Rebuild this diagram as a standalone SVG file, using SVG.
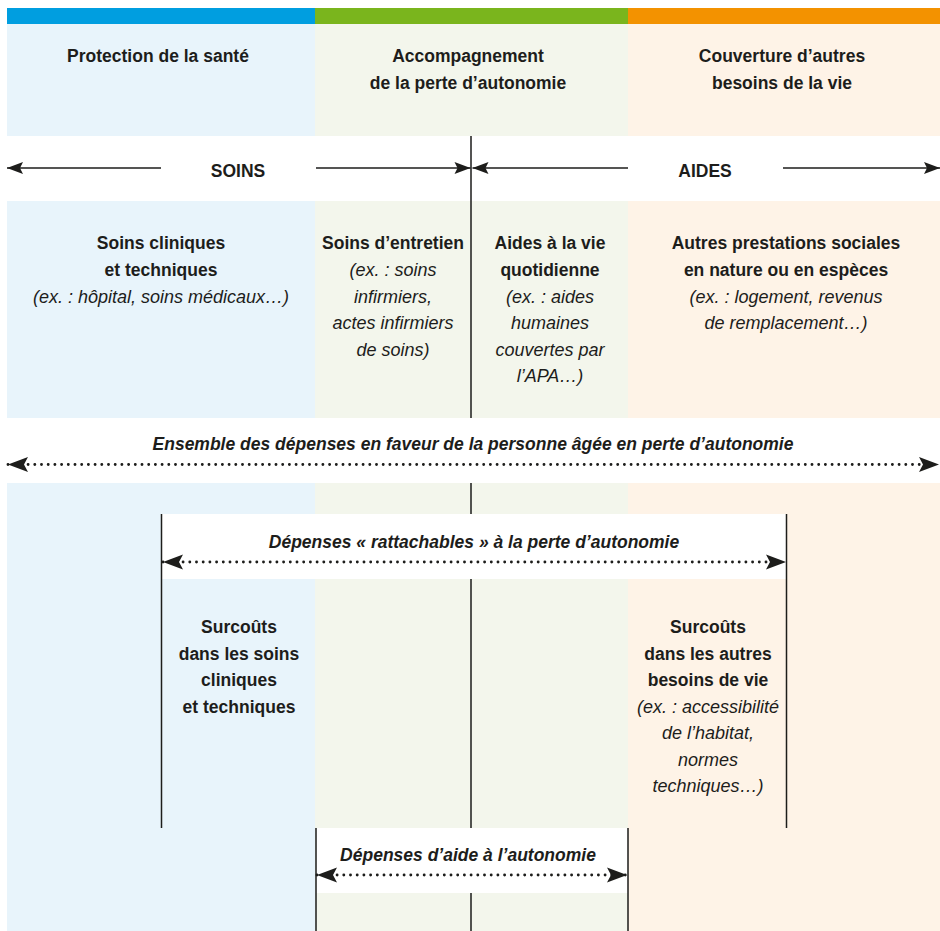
<svg xmlns="http://www.w3.org/2000/svg" width="940" height="931" viewBox="0 0 940 931">
<defs>
<style>
.t{font-family:"Liberation Sans",Arial,sans-serif;fill:#1d1d1b;text-anchor:middle}
.b{font-weight:bold;font-size:17.5px}
.i{font-style:italic;font-size:18px}
.bi{font-style:italic;font-weight:bold;font-size:17.5px}
.ln{stroke:#1d1d1b;stroke-width:1.4;fill:none}
.vl{stroke:#1d1d1b;stroke-width:1.5;fill:none}
.dot{stroke:#1d1d1b;stroke-width:2.9;stroke-linecap:round;stroke-dasharray:0 6.7;fill:none}
</style>
<marker id="ah" viewBox="-17 -7 18 14" refX="0" refY="0" markerWidth="18" markerHeight="14" markerUnits="userSpaceOnUse" orient="auto-start-reverse">
<path d="M0,0 L-16,-6 L-13,0 L-16,6 Z" fill="#1d1d1b"/>
</marker>
<marker id="ahd" viewBox="-21 -8 22 16" refX="0" refY="0" markerWidth="22" markerHeight="16" markerUnits="userSpaceOnUse" orient="auto-start-reverse">
<path d="M0,0 L-20,-7.5 L-16,0 L-20,7.5 Z" fill="#1d1d1b"/>
</marker>
</defs>

<g id="background">
<rect x="7" y="8" width="308" height="16" fill="#009EE0"/>
<rect x="315" y="8" width="313" height="16" fill="#7AB51D"/>
<rect x="628" y="8" width="312" height="16" fill="#F39200"/>
<rect x="7" y="24" width="308" height="112" fill="#E8F4FB"/>
<rect x="315" y="24" width="313" height="112" fill="#F3F6EC"/>
<rect x="628" y="24" width="312" height="112" fill="#FEF3E7"/>
<rect x="7" y="201" width="308" height="217" fill="#E8F4FB"/>
<rect x="315" y="201" width="313" height="217" fill="#F3F6EC"/>
<rect x="628" y="201" width="312" height="217" fill="#FEF3E7"/>
<rect x="7" y="483" width="308" height="448" fill="#E8F4FB"/>
<rect x="315" y="483" width="313" height="448" fill="#F3F6EC"/>
<rect x="628" y="483" width="312" height="448" fill="#FEF3E7"/>
<rect x="161" y="514" width="626" height="65" fill="#FFFFFF"/>
<rect x="316" y="828" width="312" height="65" fill="#FFFFFF"/>
</g>

<g id="h-sante">
<text class="t b" x="158" y="62">Protection de la santé</text>
</g>
<g id="h-autonomie">
<text class="t b" x="468" y="62">Accompagnement</text>
<text class="t b" x="468" y="89">de la perte d’autonomie</text>
</g>
<g id="h-besoins">
<text class="t b" x="782" y="62">Couverture d’autres</text>
<text class="t b" x="782" y="89">besoins de la vie</text>
</g>

<g id="soins-label">
<text class="t b" x="238" y="176.5">SOINS</text>
</g>
<g id="aides-label">
<text class="t b" x="705" y="176.5">AIDES</text>
</g>

<g id="n-cliniques">
<text class="t b" x="161" y="249">Soins cliniques</text>
<text class="t b" x="161" y="276">et techniques</text>
<text class="t i" x="161" y="302.5">(ex. : hôpital, soins médicaux…)</text>
</g>
<g id="n-entretien">
<text class="t b" x="393" y="249">Soins d’entretien</text>
<text class="t i" x="393" y="276">(ex. : soins</text>
<text class="t i" x="393" y="302.5">infirmiers,</text>
<text class="t i" x="393" y="329">actes infirmiers</text>
<text class="t i" x="393" y="355.5">de soins)</text>
</g>
<g id="n-aides-vie">
<text class="t b" x="550" y="249">Aides à la vie</text>
<text class="t b" x="550" y="276">quotidienne</text>
<text class="t i" x="550" y="302.5">(ex. : aides</text>
<text class="t i" x="550" y="329">humaines</text>
<text class="t i" x="550" y="355.5">couvertes par</text>
<text class="t i" x="550" y="382">l’APA…)</text>
</g>
<g id="n-autres">
<text class="t b" x="786" y="249">Autres prestations sociales</text>
<text class="t b" x="786" y="276">en nature ou en espèces</text>
<text class="t i" x="786" y="302.5">(ex. : logement, revenus</text>
<text class="t i" x="786" y="329">de remplacement…)</text>
</g>

<g id="l-ensemble">
<text class="t bi" x="473" y="450">Ensemble des dépenses en faveur de la personne âgée en perte d’autonomie</text>
</g>
<g id="l-rattachables">
<text class="t bi" x="474" y="548">Dépenses « rattachables » à la perte d’autonomie</text>
</g>

<g id="n-surcouts-soins">
<text class="t b" x="239" y="633">Surcoûts</text>
<text class="t b" x="239" y="659.5">dans les soins</text>
<text class="t b" x="239" y="686">cliniques</text>
<text class="t b" x="239" y="712.5">et techniques</text>
</g>
<g id="n-surcouts-besoins">
<text class="t b" x="708" y="633">Surcoûts</text>
<text class="t b" x="708" y="659.5">dans les autres</text>
<text class="t b" x="708" y="686">besoins de vie</text>
<text class="t i" x="708" y="712.5">(ex. : accessibilité</text>
<text class="t i" x="708" y="739">de l’habitat,</text>
<text class="t i" x="708" y="765.5">normes</text>
<text class="t i" x="708" y="792">techniques…)</text>
</g>

<g id="l-aide">
<text class="t bi" x="468" y="861">Dépenses d’aide à l’autonomie</text>
</g>

<g id="connectors">
<path class="vl" d="M471,136 V418 M471,483 V514 M471,579 V828 M471,893 V931"/>
<path class="vl" d="M161.5,514 V828 M786.5,514 V828 M316,828 V931 M628,828 V931"/>
<path class="ln" d="M161,168 H7" marker-end="url(#ah)"/>
<path class="ln" d="M316,168 H470.5" marker-end="url(#ah)"/>
<path class="ln" d="M628,168 H472.5" marker-end="url(#ah)"/>
<path class="ln" d="M783,168 H940" marker-end="url(#ah)"/>
<path class="dot" d="M8,464.5 H939" marker-start="url(#ahd)" marker-end="url(#ahd)"/>
<path class="dot" d="M163,562 H786" marker-start="url(#ahd)" marker-end="url(#ahd)"/>
<path class="dot" d="M317,875 H627" marker-start="url(#ahd)" marker-end="url(#ahd)"/>
</g>
</svg>
